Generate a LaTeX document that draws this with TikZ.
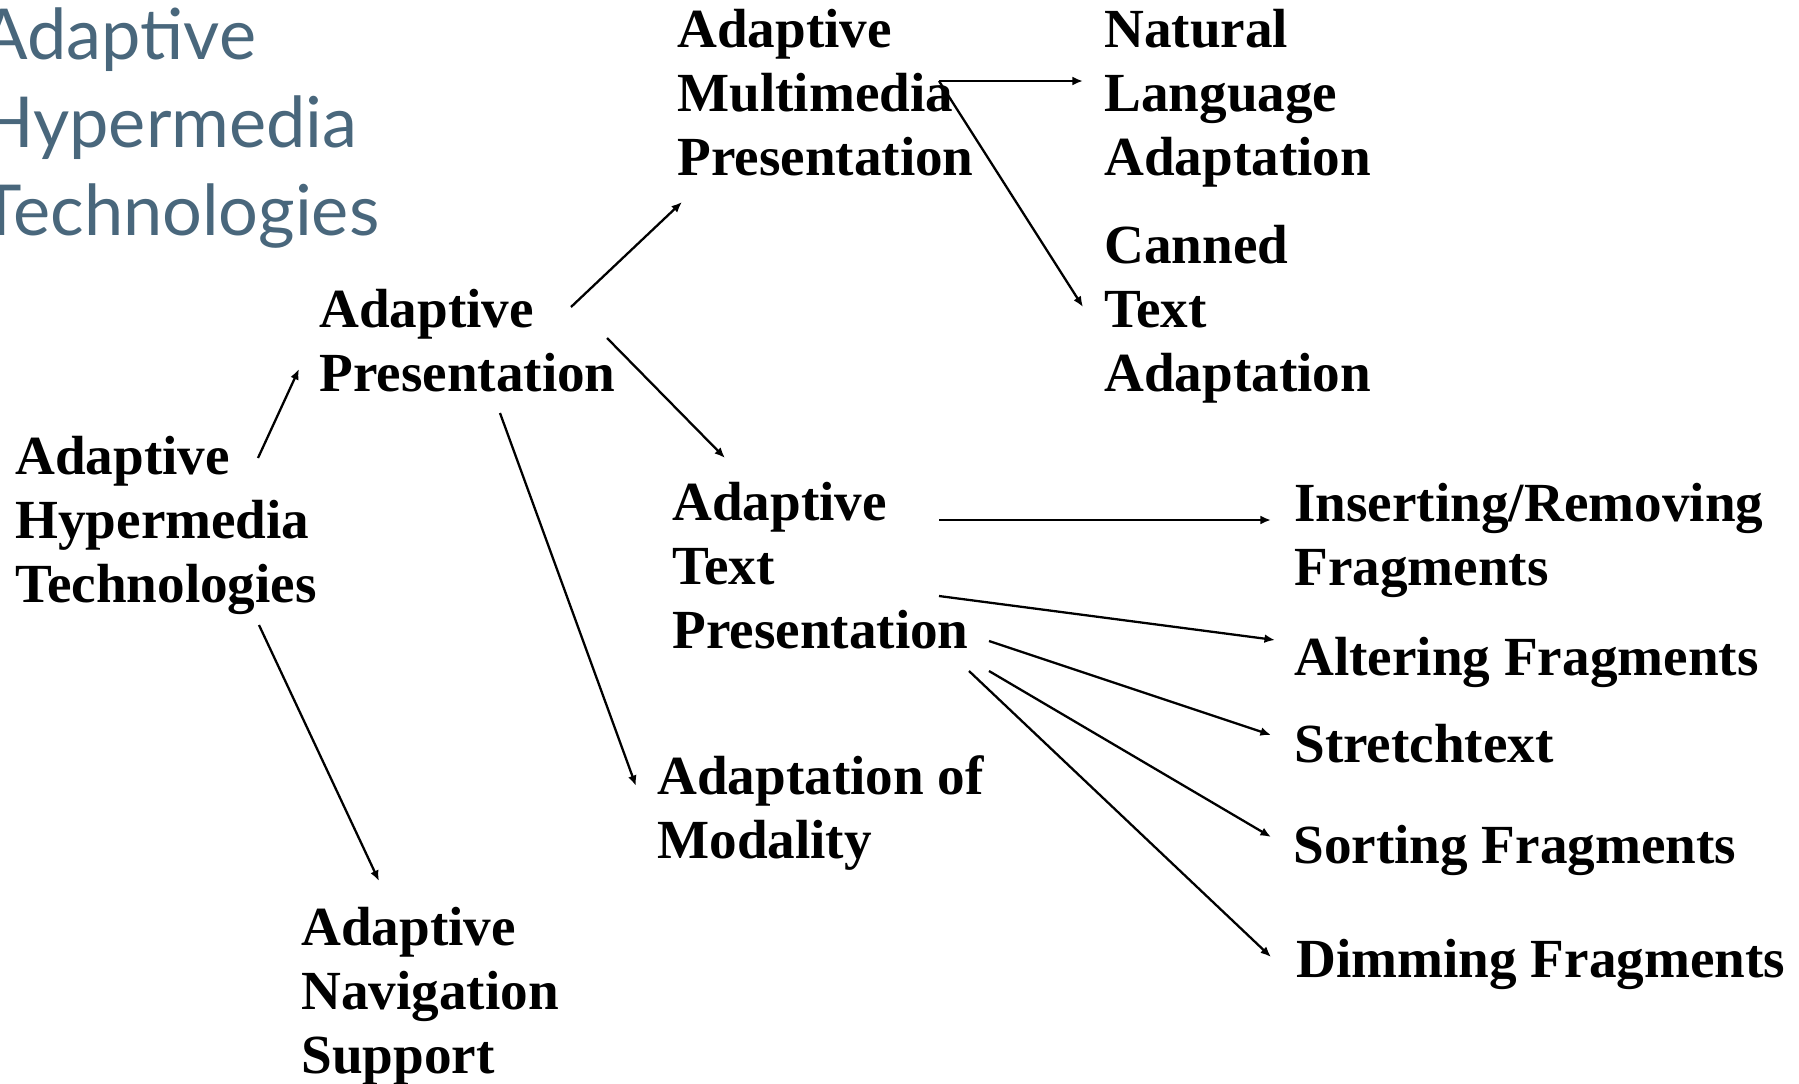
\documentclass[tikz,border=0pt]{standalone}
\usepackage{fontspec}
\setmainfont{Liberation Serif}
\newfontfamily\titlefont{Lato}
\usetikzlibrary{arrows.meta,calc,positioning}
\definecolor{ahtslate}{RGB}{73,103,124}

\begin{document}
\begin{tikzpicture}[x=0.02cm, y=-0.02cm,
    item/.style={anchor=base west, inner sep=0pt, align=left, font=\fontsize{31.4}{36.3}\selectfont\bfseries},
    heading/.style={anchor=base west, inner sep=0pt, align=left, text=ahtslate, font=\titlefont\fontsize{40}{49.9}\selectfont},
    link/.style={-{Latex[length=6pt,width=5pt]}, line width=1.3pt}
  ]
  \useasboundingbox (0,0) rectangle (1799,1083);

  \node[heading] (title) at (-20,235) {Adaptive\\Hypermedia\\Technologies};

  \node[item] (aht) at (15,602) {Adaptive\\Hypermedia\\Technologies};
  \node[item] (ap) at (319,391) {Adaptive\\Presentation};
  \node[item] (ans) at (301,1073) {Adaptive\\Navigation\\Support};
  \node[item] (amp) at (677,175) {Adaptive\\Multimedia\\Presentation};
  \node[item] (atp) at (672,648) {Adaptive\\Text\\Presentation};
  \node[item] (aom) at (657,858) {Adaptation of\\Modality};
  \node[item] (nla) at (1104,175) {Natural\\Language\\Adaptation};
  \node[item] (cta) at (1104,391) {Canned\\Text\\Adaptation};
  \node[item] (irf) at (1294,585) {Inserting/Removing\\Fragments};
  \node[item] (alt) at (1294,675) {Altering Fragments};
  \node[item] (str) at (1294,762) {Stretchtext};
  \node[item] (srt) at (1293,863) {Sorting Fragments};
  \node[item] (dim) at (1296,977) {Dimming Fragments};

  \draw[link] ([shift={(243,-144)}]aht.base west) -- ([shift={(-20,-22)}]ap.base west);
  \draw[link] ([shift={(244,23)}]aht.base west) -- ([shift={(78,-192)}]ans.base west);
  \draw[link] ([shift={(252,-84)}]ap.base west) -- ([shift={(5,27)}]amp.base west);
  \draw[link] ([shift={(288,-53)}]ap.base west) -- ([shift={(53,-190)}]atp.base west);
  \draw[link] ([shift={(181,22)}]ap.base west) -- ([shift={(-21,-72)}]aom.base west);
  \draw[link] ([shift={(262,-94)}]amp.base west) -- ([shift={(-21,-94)}]nla.base west);
  \draw[link] ([shift={(262,-94)}]amp.base west) -- ([shift={(-21,-84)}]cta.base west);
  \draw[link] ([shift={(267,-128)}]atp.base west) -- ([shift={(-23,-65)}]irf.base west);
  \draw[link] ([shift={(267,-52)}]atp.base west) -- ([shift={(-19,-35)}]alt.base west);
  \draw[link] ([shift={(317,-7)}]atp.base west) -- ([shift={(-23,-27)}]str.base west);
  \draw[link] ([shift={(317,23)}]atp.base west) -- ([shift={(-22,-26)}]srt.base west);
  \draw[link] ([shift={(297,23)}]atp.base west) -- ([shift={(-25,-20)}]dim.base west);
\end{tikzpicture}
\end{document}
